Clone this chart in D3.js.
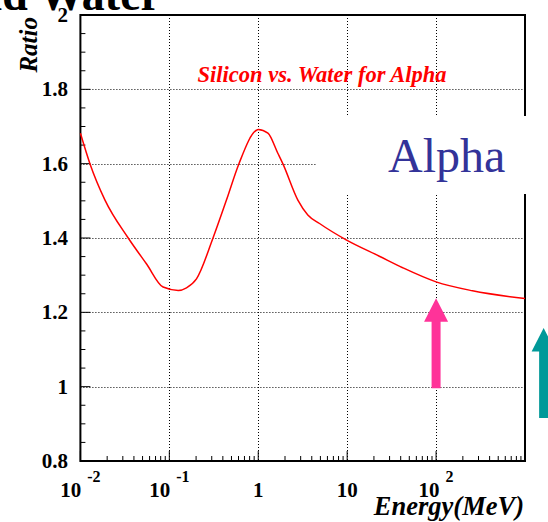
<!DOCTYPE html>
<html>
<head>
<meta charset="utf-8">
<script src="https://cdn.jsdelivr.net/npm/d3@7"></script>
<style>
body{margin:0;background:#fff;}
svg{display:block;}
</style>
</head>
<body>
<div class="chart"></div>
<script>
// ratio curve
var energy = [0.01,0.0128,0.0189,0.0345,0.0555,0.0851,0.126,0.156,0.202,0.31,0.439,0.607,0.953,1.0,1.285,1.66,1.89,2.79,3.61,4.89,9.75,23,42.1,100,257,1000];
var ratio  = [1.682,1.600,1.502,1.400,1.330,1.268,1.259,1.266,1.290,1.400,1.502,1.600,1.690,1.692,1.682,1.628,1.600,1.502,1.462,1.439,1.395,1.351,1.320,1.282,1.258,1.237];
var yTicks = [0.8,1,1.2,1.4,1.6,1.8,2];
var xDecades = [0.01,0.1,1,10,100];
var xLabels = [["10","-2"],["10","-1"],["1",""],["10",""],["10","2"]];
// arrows: [energy, ratio bottom, ratio tip]
var arrowPink = [100, 0.996, 1.238];
var arrowTeal = [1620, 0.916, 1.158];

function drawChart(className, width, height){
	var serif = "'Liberation Serif','Times New Roman',serif";
	var svg = d3.select('.'+className).append('svg')
				.attr('width', width)
				.attr('height', height);
	var left = 80.4, right = 525, top = 15, bottom = 461;

	var x = d3.scaleLog().domain([0.01, 1000]).range([left, right]);
	var y = d3.scaleLinear().domain([0.8, 2]).range([bottom, top]);

	// title cut off at top
	svg.append('text')
		.attr('x', 161).attr('y', 10)
		.attr('text-anchor', 'end')
		.attr('font-family', serif).attr('font-weight', 'bold')
		.attr('font-size', 46)
		.text('and Water');

	// grid
	var grid = svg.append('g').attr('stroke', '#000').attr('stroke-width', 1)
				.attr('stroke-dasharray', '1,2');
	yTicks.slice(1, -1).forEach(function(v){
		grid.append('line').attr('x1', left).attr('x2', right)
			.attr('y1', Math.round(y(v))+0.5).attr('y2', Math.round(y(v))+0.5);
	});
	xDecades.slice(1).forEach(function(v){
		grid.append('line').attr('y1', top).attr('y2', bottom)
			.attr('x1', Math.round(x(v))+0.5).attr('x2', Math.round(x(v))+0.5);
	});

	// y ticks
	var yMinor = d3.range(0.8, 2.0001, 0.05);
	yMinor.forEach(function(v){
		var major = Math.abs(v*5 - Math.round(v*5)) < 1e-6;
		svg.append('line')
			.attr('x1', left).attr('x2', left + (major ? 10 : 5))
			.attr('y1', y(v)).attr('y2', y(v))
			.attr('stroke', '#000').attr('stroke-width', 1);
	});
	yTicks.forEach(function(v){
		svg.append('text')
			.attr('x', 68).attr('y', y(v) + 7)
			.attr('text-anchor', 'end')
			.attr('font-family', serif).attr('font-weight', 'bold')
			.attr('font-size', 21)
			.text(v == 1 || v == 2 ? String(v) : v.toFixed(1));
	});

	// x ticks
	xDecades.forEach(function(d){
		for(var k = 1; k < 10; k++){
			var v = d*k;
			svg.append('line')
				.attr('x1', x(v)).attr('x2', x(v))
				.attr('y1', bottom).attr('y2', bottom - (k == 1 ? 10 : 5))
				.attr('stroke', '#000').attr('stroke-width', 1);
		}
	});
	xDecades.forEach(function(d, i){
		var t = svg.append('text')
			.attr('x', x(d)).attr('y', 497)
			.attr('text-anchor', 'middle')
			.attr('font-family', serif).attr('font-weight', 'bold')
			.attr('font-size', 21);
		t.append('tspan').text(xLabels[i][0]);
		if(xLabels[i][1]){
			t.append('tspan').attr('dx', 6).attr('dy', -15)
				.attr('font-size', 16).text(xLabels[i][1]);
		}
	});

	// frame
	svg.append('rect')
		.attr('x', left).attr('y', top)
		.attr('width', right-left).attr('height', bottom-top)
		.attr('fill', 'none').attr('stroke', '#000').attr('stroke-width', 2);

	// curve
	var line = d3.line()
				.x(function(d){ return x(d[0]); })
				.y(function(d){ return y(d[1]); })
				.curve(d3.curveMonotoneX);
	svg.append('path')
		.datum(energy.map(function(e, i){ return [e, ratio[i]]; }))
		.attr('d', line)
		.attr('fill', 'none')
		.attr('stroke', '#ff0000')
		.attr('stroke-width', 1.5);

	// inner title
	svg.append('text')
		.attr('x', 322).attr('y', 82)
		.attr('text-anchor', 'middle')
		.attr('fill', '#ff0000')
		.attr('font-family', serif).attr('font-weight', 'bold').attr('font-style', 'italic')
		.attr('font-size', 22.5)
		.text('Silicon vs. Water for Alpha');

	// Alpha label box
	svg.append('rect')
		.attr('x', 317).attr('y', 116)
		.attr('width', width-317).attr('height', 78)
		.attr('fill', '#fff');
	svg.append('text')
		.attr('x', 388).attr('y', 172)
		.attr('fill', '#333399')
		.attr('font-family', serif)
		.attr('font-size', 48)
		.text('Alpha');

	// arrows
	function arrow(a, color){
		var cx = x(a[0]), yb = y(a[1]), yt = y(a[2]);
		var sw = 4.5, hw = 12, hh = 23.5;
		svg.append('path')
			.attr('d', 'M'+(cx-sw)+','+yb+'L'+(cx-sw)+','+(yt+hh)+'L'+(cx-hw)+','+(yt+hh)
				+'L'+cx+','+yt+'L'+(cx+hw)+','+(yt+hh)+'L'+(cx+sw)+','+(yt+hh)+'L'+(cx+sw)+','+yb+'Z')
			.attr('fill', color);
	}
	arrow(arrowPink, '#ff3399');
	arrow(arrowTeal, '#009999');

	// axis titles
	svg.append('text')
		.attr('transform', 'translate(37,17) rotate(-90)')
		.attr('text-anchor', 'end')
		.attr('font-family', serif).attr('font-weight', 'bold').attr('font-style', 'italic')
		.attr('font-size', 25)
		.text('Ratio');
	svg.append('text')
		.attr('x', 524).attr('y', 515)
		.attr('text-anchor', 'end')
		.attr('font-family', serif).attr('font-weight', 'bold').attr('font-style', 'italic')
		.attr('font-size', 26.5)
		.text('Energy(MeV)');
}
drawChart('chart', 548, 522);
</script>
</body>
</html>
